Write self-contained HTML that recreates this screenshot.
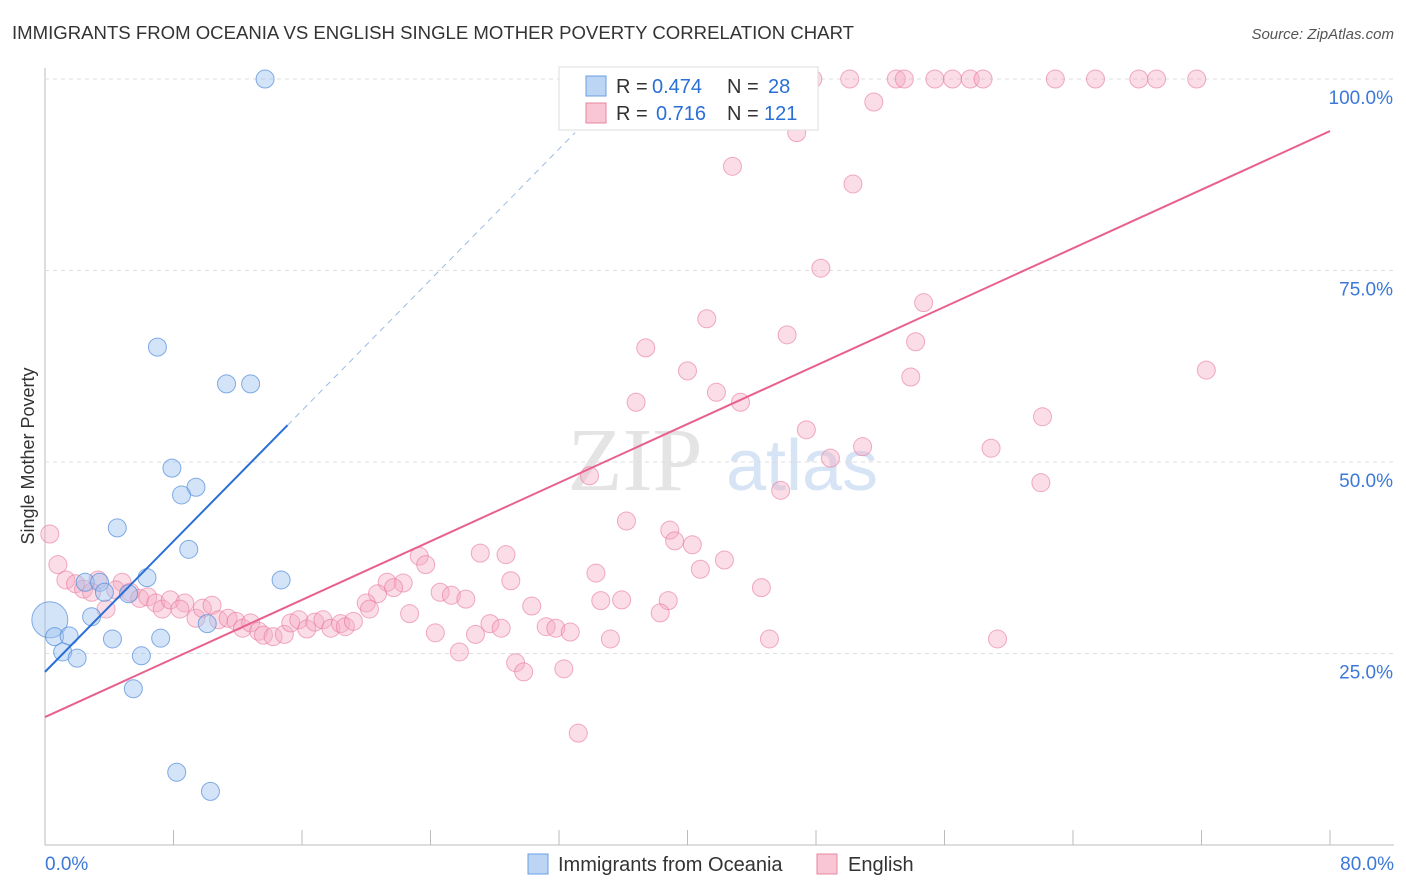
<!DOCTYPE html>
<html><head><meta charset="utf-8"><style>
body{margin:0;background:#fff;font-family:"Liberation Sans",sans-serif;}
#wrap{position:relative;width:1406px;height:892px;overflow:hidden}
</style></head><body>
<div id="wrap">
<svg id="svg" width="1406" height="892" xmlns="http://www.w3.org/2000/svg">
<text x="12" y="39" font-size="18" fill="#333" textLength="842" lengthAdjust="spacingAndGlyphs">IMMIGRANTS FROM OCEANIA VS ENGLISH SINGLE MOTHER POVERTY CORRELATION CHART</text>
<text x="1394" y="39" font-size="15" fill="#555" text-anchor="end" font-style="italic">Source: ZipAtlas.com</text>
<text x="34" y="456" font-size="18" fill="#333" text-anchor="middle" transform="rotate(-90 34 456)">Single Mother Poverty</text>
<g><text x="635" y="490" font-size="90" fill="#e4e4e4" font-family="Liberation Serif" text-anchor="middle">ZIP</text><text x="802" y="490" font-size="72" fill="#d6e4f5" text-anchor="middle">atlas</text></g>
<g id="grid"></g><g id="pts"></g><g id="lines"></g>
<g>
<rect x="559" y="67" width="259" height="63" fill="#fff" stroke="#ddd"/>
<rect x="586" y="76" width="20" height="20" fill="#bcd5f5" stroke="#6a9fe0"/>
<text x="616" y="93" font-size="20" fill="#333">R =</text>
<text x="652" y="93" font-size="20" fill="#2a6fd6">0.474</text>
<text x="727" y="93" font-size="20" fill="#333">N =</text>
<text x="768" y="93" font-size="20" fill="#2a6fd6">28</text>
<rect x="586" y="103" width="20" height="20" fill="#f9c6d5" stroke="#e8879f"/>
<text x="616" y="120" font-size="20" fill="#333">R =</text>
<text x="656" y="120" font-size="20" fill="#2a6fd6">0.716</text>
<text x="727" y="120" font-size="20" fill="#333">N =</text>
<text x="764" y="120" font-size="20" fill="#2a6fd6">121</text>
</g>
<g>
<rect x="528" y="854" width="20" height="20" fill="#bcd5f5" stroke="#6a9fe0"/>
<text x="558" y="871" font-size="20" fill="#333">Immigrants from Oceania</text>
<rect x="817" y="854" width="20" height="20" fill="#f9c6d5" stroke="#e8879f"/>
<text x="848" y="871" font-size="20" fill="#333">English</text>
</g>
</svg></div>
<script>
const xTicks=[0,8,16,24,32,40,48,56,64,72,80];
const yTicks=[25,50,75,100];
const blueX=[13.7,7.0,11.3,12.8,7.9,9.4,8.5,4.5,8.95,6.35,14.7,2.5,3.4,3.7,5.2,2.9,10.1,0.3,0.6,1.5,4.2,7.2,1.1,2.0,6.0,5.5,8.2,10.3];
const blueY=[100,65.0,60.2,60.2,49.2,46.7,45.7,41.4,38.6,34.9,34.6,34.3,34.3,33.0,32.8,29.8,28.9,29.4,27.2,27.3,26.9,27.0,25.2,24.4,24.7,20.4,9.5,7.0];
const pinkX=[43.7,44.3,47.8,50.1,53.0,53.5,55.4,56.5,57.6,58.4,62.9,65.4,68.1,69.2,71.7,51.6,46.8,42.8,50.3,48.3,54.7,41.2,46.2,37.4,54.2,40.0,72.3,53.9,41.8,43.3,36.8,62.1,47.4,50.9,58.9,48.9,33.9,62.0,45.8,36.2,38.9,39.2,40.3,27.1,28.7,23.3,42.3,23.7,40.8,34.3,29.0,21.3,22.3,21.7,44.6,24.6,25.3,20.7,26.2,20.0,34.6,35.9,38.8,30.3,20.2,22.7,38.3,27.7,28.4,31.2,31.8,32.7,24.3,26.8,35.2,45.1,59.3,25.8,29.3,29.8,32.3,33.2,0.3,0.8,1.3,1.9,2.4,3.3,2.9,4.8,4.4,5.3,5.9,6.4,3.8,6.9,7.3,7.8,8.7,8.4,9.4,9.8,10.4,10.8,11.4,11.9,12.3,12.8,13.3,13.6,14.2,14.9,15.3,15.8,16.3,16.8,17.3,17.8,18.4,18.7,19.2];
const pinkY=[100,100,100,100,100,100,100,100,100,100,100,100,100,100,100,97.0,93.0,88.6,86.3,75.3,70.8,68.7,66.6,64.9,65.7,61.9,62.0,61.1,59.1,57.8,57.8,55.9,54.2,52.0,51.8,50.5,48.2,47.3,46.3,42.3,41.1,39.7,39.2,38.1,37.9,37.7,37.2,36.6,36.0,35.5,34.5,34.3,34.2,33.6,33.6,33.0,32.6,32.8,32.1,31.6,31.9,32.0,31.9,31.2,30.8,30.2,30.3,28.9,28.3,28.5,28.3,27.8,27.7,27.5,26.9,26.9,26.9,25.2,23.8,22.6,23.0,14.6,40.6,36.6,34.6,34.1,33.4,34.6,33.0,34.3,33.3,33.0,32.2,32.4,30.8,31.6,30.8,32.0,31.6,30.8,29.6,30.9,31.3,29.4,29.6,29.2,28.3,29.0,27.9,27.4,27.2,27.5,29.0,29.4,28.2,29.1,29.4,28.3,28.9,28.5,29.2];
const blueLine=[[0,22.6],[15.1,54.8],[33.0,93.0]];
const pinkLine=[[0,16.7],[80,93.2]];
const X=v=>45+v/80*1285, Y=v=>845-v/100*766;
const NS='http://www.w3.org/2000/svg';
function mk(t,a,p){const e=document.createElementNS(NS,t);for(const k in a)e.setAttribute(k,a[k]);p.appendChild(e);return e;}
const g=document.getElementById('grid'),pts=document.getElementById('pts'),ln=document.getElementById('lines');
const ax=mk('line',{x1:45,y1:68,x2:45,y2:845,stroke:'#bbb'},g);


const bx=mk('line',{x1:45,y1:845,x2:1394,y2:845,stroke:'#bbb'},g);


yTicks.forEach(t=>{
 const l=mk('line',{x1:45,y1:Y(t),x2:1394,y2:Y(t),stroke:'#ddd','stroke-dasharray':'4,4'},g);
 
 
 const tx=mk('text',{x:1393,y:Y(t)+25,'font-size':19,fill:'#3c78d8','text-anchor':'end'},g);
 tx.textContent=t.toFixed(1)+'%';
 
 
});
xTicks.forEach(t=>{
 const l=mk('line',{x1:X(t),y1:830,x2:X(t),y2:845,stroke:'#bbb'},g);
 
 
});
[[0,'start',45],[80,'end',1394]].forEach(([t,a,x])=>{
 const tx=mk('text',{x:x,y:870,'font-size':19,fill:'#3c78d8','text-anchor':a},g);
 tx.textContent=t.toFixed(1)+'%';
 
 
});
pinkX.forEach((v,i)=>{
 const c=mk('circle',{cx:X(v),cy:Y(pinkY[i]),r:9,fill:'rgba(244,170,195,0.4)',stroke:'rgba(232,120,155,0.6)','stroke-width':1},pts);
 
 
});
blueX.forEach((v,i)=>{
 const c=mk('circle',{cx:X(v),cy:Y(blueY[i]),r:(i==17?18:9),fill:'rgba(160,195,240,0.45)',stroke:'rgba(80,140,220,0.7)','stroke-width':1},pts);
 
 
});
const b1=mk('line',{x1:X(blueLine[0][0]),y1:Y(blueLine[0][1]),x2:X(blueLine[1][0]),y2:Y(blueLine[1][1]),stroke:'#2a6fd6','stroke-width':2},ln);


const b2=mk('line',{x1:X(blueLine[1][0]),y1:Y(blueLine[1][1]),x2:X(blueLine[2][0]),y2:Y(blueLine[2][1]),stroke:'#9bbbe6','stroke-width':1,'stroke-dasharray':'6,5'},ln);


const p1=mk('line',{x1:X(pinkLine[0][0]),y1:Y(pinkLine[0][1]),x2:X(pinkLine[1][0]),y2:Y(pinkLine[1][1]),stroke:'#e8608c','stroke-width':2},ln);


</script>
</body></html>
